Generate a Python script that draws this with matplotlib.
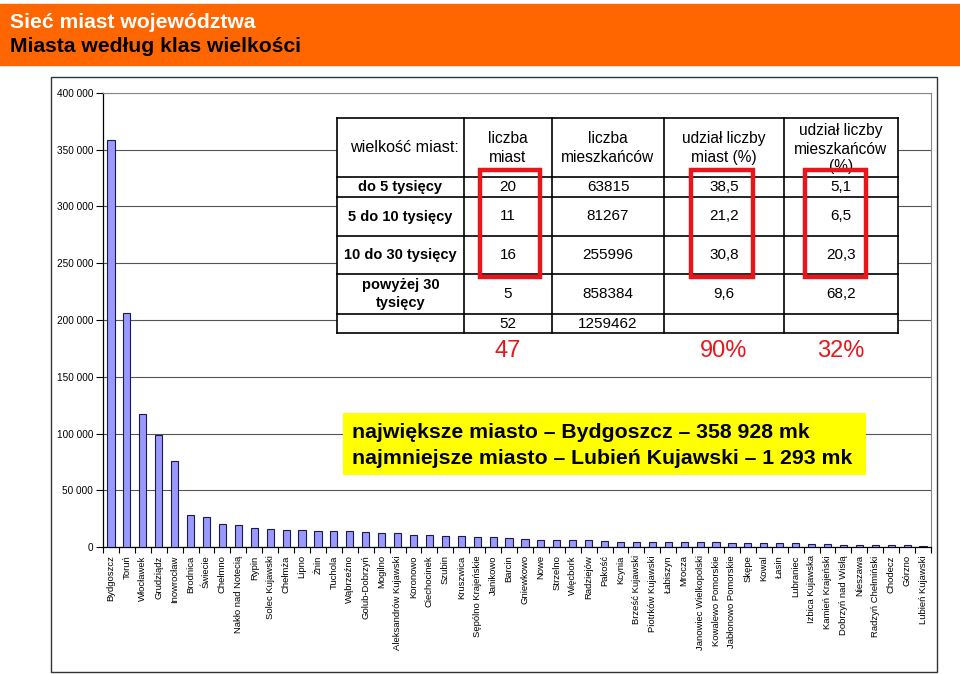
import numpy as np
import matplotlib
matplotlib.use("Agg")
import matplotlib.pyplot as plt
from matplotlib.patches import Rectangle

plt.rcParams['font.family'] = ['Liberation Sans', 'DejaVu Sans']

# cities of the voivodeship and their population
cities = ["Bydgoszcz", "Toruń", "Włocławek", "Grudziądz", "Inowrocław", "Brodnica",
          "Świecie", "Chełmno", "Nakło nad Notecią", "Rypin", "Solec Kujawski", "Chełmża",
          "Lipno", "Żnin", "Tuchola", "Wąbrzeźno", "Golub-Dobrzyń", "Mogilno",
          "Aleksandrów Kujawski", "Koronowo", "Ciechocinek", "Szubin", "Kruszwica",
          "Sępólno Krajeńskie", "Janikowo", "Barcin", "Gniewkowo", "Nowe", "Strzelno",
          "Więcbork", "Radziejów", "Pakość", "Kcynia", "Brześć Kujawski", "Piotrków Kujawski",
          "Łabiszyn", "Mrocza", "Janowiec Wielkopolski", "Kowalewo Pomorskie",
          "Jabłonowo Pomorskie", "Skępe", "Kowal", "Łasin", "Lubraniec", "Izbica Kujawska",
          "Kamień Krajeński", "Dobrzyń nad Wisłą", "Nieszawa", "Radzyń Chełmiński",
          "Chodecz", "Górzno", "Lubień Kujawski"]
population = [358928, 206000, 117000, 98500, 76000, 28000,
              26000, 20600, 19000, 16700, 15500, 15000,
              14800, 14000, 13900, 13800, 13000, 12500,
              12300, 11000, 10800, 9600, 9300,
              9200, 9000, 7800, 7300, 6300, 6000,
              5900, 5800, 5700, 4700, 4600, 4500,
              4500, 4300, 4000, 4000,
              3900, 3600, 3500, 3300, 3200, 2700,
              2400, 2200, 2000, 1900,
              1900, 1400, 1293]

# summary table
size_classes = ["do 5 tysięcy", "5 do 10 tysięcy", "10 do 30 tysięcy", "powyżej 30\ntysięcy"]
class_count = [20, 11, 16, 5]
class_pop = [63815, 81267, 255996, 858384]
class_count_share = ["38,5", "21,2", "30,8", "9,6"]
class_pop_share = ["5,1", "6,5", "20,3", "68,2"]
headers = ["wielkość miast:", "liczba\nmiast", "liczba\nmieszkańców",
           "udział liczby\nmiast (%)", "udział liczby\nmieszkańców\n(%)"]
highlight = [str(sum(class_count[:3])), "90%", "32%"]

W, H = 960, 674
fig = plt.figure(figsize=(W / 100, H / 100), dpi=100)

# bar chart
ax = fig.add_axes([103 / W, 1 - 547 / H, (931 - 103) / W, (547 - 93) / H])
x = np.arange(len(cities))
ax.bar(x, population, width=0.45, color="#9999ff", edgecolor="#1a1a4d", linewidth=0.8, zorder=3)
ax.set_xlim(-0.5, len(cities) - 0.5)
ax.set_ylim(0, 400000)
yt = np.arange(0, 400001, 50000)
ax.set_yticks(yt)
ax.set_yticklabels([f"{v:,}".replace(",", " ") for v in yt], fontsize=7.2)
ax.yaxis.grid(True, color="#555555", linewidth=0.8, zorder=0)
ax.set_xticks(x)
ax.set_xticklabels(cities, rotation=90, fontsize=6.8, va="top")
ax.set_xticks(np.arange(-0.5, len(cities)), minor=True)
ax.tick_params(axis="x", which="major", length=0, pad=6)
ax.tick_params(axis="x", which="minor", length=4, direction="out", width=0.8)
ax.tick_params(axis="y", length=5, width=0.8, pad=2)
for s in ["top", "right"]:
    ax.spines[s].set_color("#888888")
for s in ["left", "bottom"]:
    ax.spines[s].set_color("black")
    ax.spines[s].set_linewidth(0.9)

# overlay in pixel coordinates for header, table and notes
ov = fig.add_axes([0, 0, 1, 1], zorder=5)
ov.set_xlim(0, W)
ov.set_ylim(H, 0)
ov.axis("off")
ov.patch.set_alpha(0)

ov.add_patch(Rectangle((0, 4), W, 61, color="#ff6600", zorder=1))
ov.text(10, 22, "Sieć miast województwa", color="white", fontsize=15.2, fontweight="bold", va="center")
ov.text(10, 47, "Miasta według klas wielkości", color="black", fontsize=15.2, fontweight="bold", va="center")
ov.add_patch(Rectangle((51, 77), 886, 595, fill=False, edgecolor="#333333", linewidth=1))

cx = [337, 464, 552, 664, 784, 898]
ry = [118, 177, 197, 236, 274, 314, 333]
ov.add_patch(Rectangle((cx[0], ry[0]), cx[-1] - cx[0], ry[-1] - ry[0],
                       facecolor="white", edgecolor="none", zorder=2))
for xx in cx:
    ov.plot([xx, xx], [ry[0], ry[-1]], color="black", lw=1.2, zorder=3)
for yy in ry:
    ov.plot([cx[0], cx[-1]], [yy, yy], color="black", lw=1.2, zorder=3)

mid = lambda i: (cx[i] + cx[i + 1]) / 2
for i, h in enumerate(headers):
    t = ov.text(mid(i) + (4 if i == 0 else 0), (ry[0] + ry[1]) / 2 + (0.5 if i < 4 else 1.5), h,
                fontsize=11.6 if i == 0 else 11.2,
                ha="center", va="center", linespacing=1.35 if i < 4 else 1.25, zorder=3)
    clip = Rectangle((cx[i], ry[0]), cx[i + 1] - cx[i], ry[1] - ry[0], transform=ov.transData)
    t.set_clip_path(clip)

for r in range(4):
    yc = (ry[r + 1] + ry[r + 2]) / 2
    ov.text(mid(0), yc, size_classes[r], fontsize=10.5, fontweight="bold",
            ha="center", va="center", linespacing=1.3, zorder=3)
    row = [class_count[r], class_pop[r], class_count_share[r], class_pop_share[r]]
    for c, v in enumerate(row):
        ov.text(mid(c + 1), yc, str(v), fontsize=11, ha="center", va="center", zorder=3)
yc = (ry[5] + ry[6]) / 2
ov.text(mid(1), yc, str(sum(class_count)), fontsize=11, ha="center", va="center", zorder=3)
ov.text(mid(2), yc, str(sum(class_pop)), fontsize=11, ha="center", va="center", zorder=3)

# red frames and totals
for x0, x1 in [(480, 540), (691, 753), (805, 866)]:
    ov.add_patch(Rectangle((x0, 170), x1 - x0, 107, fill=False, edgecolor="#e8161b",
                           linewidth=3.2, zorder=4))
for c, txt in zip([1, 3, 4], highlight):
    ov.text(mid(c), 351, txt, color="#e8161b", fontsize=17, ha="center", va="center", zorder=4)

# yellow note
ov.add_patch(Rectangle((343, 413), 523, 62, facecolor="#ffff00", edgecolor="none", zorder=2))
ov.text(352, 432, "największe miasto – Bydgoszcz – 358 928 mk", fontsize=15.3,
        fontweight="bold", va="center", zorder=3)
ov.text(352, 458, "najmniejsze miasto – Lubień Kujawski – 1 293 mk", fontsize=15.3,
        fontweight="bold", va="center", zorder=3)

fig.savefig("out.png", dpi=100)
